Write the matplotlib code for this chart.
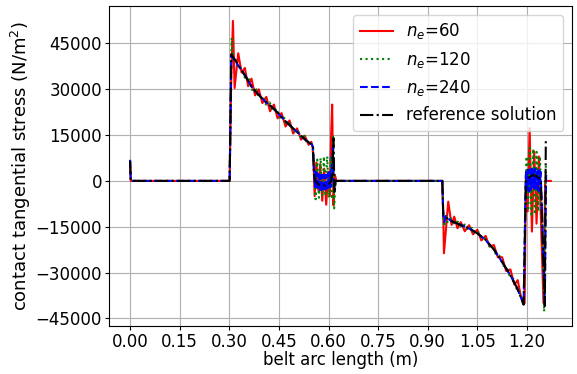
import numpy as np
from matplotlib import pyplot as plt

# %% contact tangential stress along the belt, three meshes + reference

# n_e = 60
x_ne60 = [0.0, 0.002, 0.301, 0.306, 0.311, 0.316, 0.327, 0.337, 0.347, 0.357, 0.367,
          0.378, 0.389, 0.400, 0.412, 0.423, 0.435, 0.446, 0.458, 0.470, 0.482,
          0.493, 0.505, 0.517, 0.528, 0.540, 0.548, 0.552,
          0.555, 0.558, 0.563, 0.569, 0.575, 0.581, 0.587, 0.593, 0.599, 0.604,
          0.608, 0.611, 0.615, 0.619, 0.624,
          0.944, 0.947, 0.949, 0.962, 0.972, 0.980, 0.990, 1.000, 1.012, 1.025,
          1.037, 1.050, 1.062, 1.075, 1.087, 1.100, 1.112, 1.125, 1.137, 1.150,
          1.162, 1.172, 1.182, 1.190,
          1.193, 1.197, 1.202, 1.208, 1.215, 1.222, 1.229, 1.236, 1.242, 1.250,
          1.255, 1.272]
s_ne60 = [6000, 0, 0, 35000, 52400, 30400, 41800, 35500, 37000, 31000, 33500,
          28000, 30000, 25500, 27500, 22800, 25000, 20500, 22200, 17800, 19800,
          15500, 17200, 13500, 14800, 11800, 12800, 11000,
          5000, -5000, 6000, -3000, 5500, -6500, 4000, -7800, 3000, -5000,
          15700, 25000, -8000, 2000, 0,
          0, -12000, -23700, -6800, -14400, -11700, -15500, -13500, -16500, -14500,
          -17500, -16000, -19500, -18000, -21500, -21000, -25000, -25000, -29500, -29000,
          -34000, -32500, -38000, -40500,
          -40000, 3000, -10000, 17300, -16600, 9600, -14000, 8000, -12000, -40000,
          0, 0]

# n_e = 120
x_ne120 = [0.0, 0.002, 0.301, 0.307, 0.312, 0.317, 0.327, 0.338, 0.348, 0.359, 0.369,
           0.380, 0.390, 0.401, 0.411, 0.422, 0.432, 0.443, 0.453, 0.464, 0.474,
           0.485, 0.495, 0.506, 0.516, 0.527, 0.537, 0.548, 0.553,
           0.556, 0.561, 0.566, 0.571, 0.576, 0.581, 0.586, 0.591, 0.596, 0.601,
           0.606, 0.611, 0.614, 0.617, 0.621,
           0.944, 0.947, 0.950, 0.955, 0.960, 0.970, 0.981, 0.991, 1.002, 1.012,
           1.023, 1.033, 1.044, 1.054, 1.065, 1.075, 1.086, 1.096, 1.107, 1.117,
           1.128, 1.138, 1.149, 1.159, 1.170, 1.180, 1.190,
           1.196, 1.199, 1.204, 1.209, 1.214, 1.219, 1.224, 1.229, 1.234, 1.239,
           1.244, 1.252, 1.257]
s_ne120 = [6500, 0, 0, 46800, 39000, 40570, 36930, 37000, 33450, 33330, 29780,
           30400, 27100, 27800, 25000, 25700, 22900, 23600, 20700, 21150, 18200,
           18900, 16100, 16800, 14000, 14700, 12000, 12900, 10000,
           6000, -6000, 7000, -5500, 7500, -5000, 8000, -5000, 8000, -5500,
           8000, -6000, 14500, -9000, 0,
           0, -12000, -15000, -11000, -13500, -12300, -14250, -13350, -15280, -14280,
           -16120, -15340, -17490, -16840, -19160, -18600, -21410, -21290, -24320, -24520,
           -27740, -28140, -31520, -32100, -35700, -37050, -41000,
           0, 8000, -9000, 10800, -11700, 10500, -11000, 9500, -10000, 8000,
           -7000, -42800, 5000]

# n_e = 240
x_ne240 = [0.0, 0.002, 0.301, 0.306, 0.330, 0.350, 0.370, 0.390, 0.410, 0.430, 0.450,
           0.470, 0.490, 0.510, 0.530, 0.550, 0.553,
           0.556, 0.559, 0.561, 0.564, 0.567, 0.569, 0.572, 0.575, 0.577, 0.580,
           0.583, 0.585, 0.588, 0.591, 0.593, 0.596, 0.599, 0.601, 0.604, 0.607,
           0.610, 0.613, 0.616, 0.620,
           0.944, 0.947, 0.950, 0.955, 0.970, 1.000, 1.025, 1.050, 1.075, 1.100,
           1.125, 1.150, 1.170, 1.190,
           1.196, 1.198, 1.201, 1.203, 1.206, 1.209, 1.211, 1.214, 1.217, 1.219,
           1.222, 1.225, 1.227, 1.230, 1.233, 1.235, 1.238, 1.241, 1.243, 1.254,
           1.258]
s_ne240 = [6900, 0, 0, 41000, 37300, 34200, 30300, 28200, 25800, 24100, 21800,
           19600, 17400, 15600, 13400, 11900, 11000,
           3500, -2000, 3000, -2500, 2500, -3000, 2000, -3500, 2000, -3500,
           2000, -3500, 2000, -3500, 2000, -3000, 2500, -2500, 3000, -2000,
           4000, 11000, -2500, 0,
           0, -11000, -13500, -11500, -13100, -14400, -15600, -17100, -19400, -22400,
           -26600, -30900, -35100, -40300,
           0, 3500, -3000, 3600, -3500, 3600, -3000, 4000, -2500, 4000,
           -2500, 4000, -2500, 3600, -3000, 3500, -3500, 3000, -2000, -40000,
           3000]

# reference solution
x_ref = [0.0, 0.002, 0.301, 0.306, 0.330, 0.350, 0.370, 0.390, 0.410, 0.430, 0.450,
         0.470, 0.490, 0.510, 0.530, 0.550,
         0.553, 0.556, 0.560, 0.570, 0.585, 0.600, 0.608, 0.612, 0.615, 0.618, 0.622,
         0.944, 0.947, 0.970, 1.000, 1.025, 1.050, 1.075, 1.100, 1.125, 1.150,
         1.170, 1.190,
         1.197, 1.205, 1.215, 1.225, 1.235, 1.242, 1.254, 1.257]
s_ref = [6500, 0, 0, 41500, 37500, 34000, 30500, 28000, 26000, 24000, 22000,
         19500, 17500, 15500, 13500, 11800,
         11500, 2000, 0, -1200, -1500, -1200, 0, 3000, 14000, -4000, 0,
         0, -11500, -13000, -14500, -15500, -17200, -19300, -22500, -26500, -31000,
         -35000, -40500,
         0, 1000, 1800, 1800, 1000, 0, -41000, 14000]

plt.rcParams['font.size'] = 12

fig = plt.figure(figsize=(5.77, 3.74), dpi=100)
ax = fig.add_subplot(111)
fig.subplots_adjust(left=0.189, right=0.991, top=0.983, bottom=0.128)

ax.plot(x_ne60, s_ne60, '-', color='red', lw=1.5, label='$n_e$=60')
ax.plot(x_ne120, s_ne120, ':', color='green', lw=1.5, label='$n_e$=120')
ax.plot(x_ne240, s_ne240, '--', color='blue', lw=1.5, label='$n_e$=240')
ax.plot(x_ref, s_ref, '-.', color='black', lw=1.5, label='reference solution')

ax.set_xticks(np.arange(0, 1.21, 0.15))
ax.set_xticklabels(['%.2f' % t for t in np.arange(0, 1.21, 0.15)])
ax.set_yticks(np.arange(-45000, 45001, 15000))
ax.tick_params(length=3, pad=2)
ax.grid(True)

ax.set_xlabel('belt arc length (m)', labelpad=0)
ax.set_ylabel('contact tangential stress (N/m$^2$)', fontsize=13, labelpad=2)
ax.legend(loc='upper right')

fig.savefig('out.png', dpi=100)
